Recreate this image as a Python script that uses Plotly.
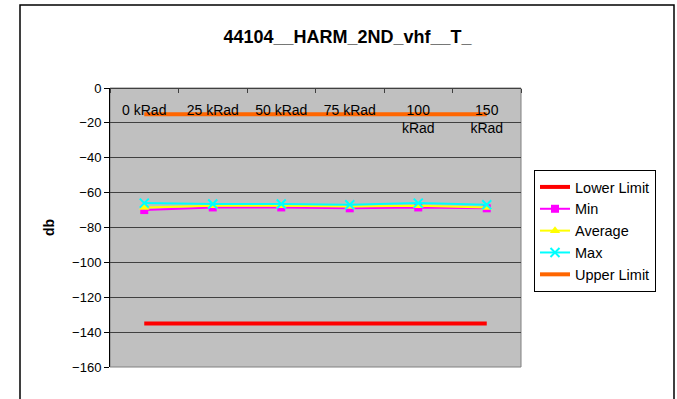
import plotly.graph_objects as go

categories = ["0 kRad", "25 kRad", "50 kRad", "75 kRad", "100<br>kRad", "150<br>kRad"]
lower_limit = [-135, -135, -135, -135, -135, -135]
min_vals = [-70, -68.5, -68.5, -69, -68.5, -69]
avg_vals = [-68.5, -67.5, -67.5, -68, -67.5, -68.5]
max_vals = [-66, -66.5, -66.5, -67, -66, -67]
upper_limit = [-15, -15, -15, -15, -15, -15]
y_ticks = [0, -20, -40, -60, -80, -100, -120, -140, -160]

FONT = "Liberation Sans, Arial, sans-serif"

fig = go.Figure()
fig.add_trace(go.Scatter(x=categories, y=lower_limit, name="Lower Limit", mode="lines",
                         line=dict(color="#FF0000", width=4)))
fig.add_trace(go.Scatter(x=categories, y=min_vals, name="Min", mode="lines+markers",
                         line=dict(color="#FF00FF", width=2),
                         marker=dict(symbol="square", size=8, color="#FF00FF")))
fig.add_trace(go.Scatter(x=categories, y=avg_vals, name="Average", mode="lines+markers",
                         line=dict(color="#FFFF00", width=2),
                         marker=dict(symbol="triangle-up", size=9, color="#FFFF00")))
fig.add_trace(go.Scatter(x=categories, y=max_vals, name="Max", mode="lines+markers",
                         line=dict(color="#00FFFF", width=2),
                         marker=dict(symbol="x-thin", size=9, color="#00FFFF",
                                     line=dict(color="#00FFFF", width=2))))
fig.add_trace(go.Scatter(x=categories, y=upper_limit, name="Upper Limit", mode="lines",
                         line=dict(color="#FF6600", width=4)))

# plot area at x 110-521, y 88-367
fig.update_layout(
    width=677, height=399,
    margin=dict(l=110, r=156, t=88, b=32),
    paper_bgcolor="white", plot_bgcolor="#C0C0C0",
    font=dict(family=FONT, size=13, color="black"),
    title=dict(text="<b>44104__HARM_2ND_vhf__T_</b>", x=347.5 / 677,
               xanchor="center", y=1 - 37 / 399, yanchor="middle",
               font=dict(size=18, family=FONT)),
    showlegend=True,
    legend=dict(x=(534 - 110) / 411, y=1 - (170 - 88) / 279, xanchor="left", yanchor="top",
                bgcolor="white", bordercolor="black", borderwidth=1,
                font=dict(size=14.5, family=FONT), tracegroupgap=0,
                itemwidth=30),
    xaxis=dict(type="category", range=[-0.5, len(categories) - 0.5],
               anchor="free", position=1, side="bottom",
               showgrid=False, showline=True, linecolor="#404040", linewidth=1,
               ticks="outside", ticklen=4, tickcolor="#404040", tickson="boundaries",
               ticklabelstandoff=9,
               tickfont=dict(size=14, family=FONT), mirror=False, zeroline=False),
    yaxis=dict(range=[-160, 0], tickvals=y_ticks, showgrid=True, gridcolor="#404040",
               gridwidth=1, showline=True, linecolor="black", linewidth=1,
               ticks="outside", ticklen=5, tickcolor="black",
               tickfont=dict(size=13, family=FONT), zeroline=False,
               title=dict(text="<b>db</b>", font=dict(size=14, family=FONT), standoff=14)),
)

# plot-area border
fig.add_shape(type="rect", xref="paper", yref="paper", x0=0, x1=1, y0=0, y1=1,
              line=dict(color="#808080", width=1), layer="below")
# outer chart frame
fig.add_shape(type="rect", xref="paper", yref="paper",
              x0=(20 - 110) / 411, x1=(674 - 110) / 411,
              y0=-0.3, y1=1 + (88 - 5) / 279,
              line=dict(color="black", width=1.5))

fig.write_html("out.html", config={"displayModeBar": False},
               post_script="document.body.style.margin='0px';")
